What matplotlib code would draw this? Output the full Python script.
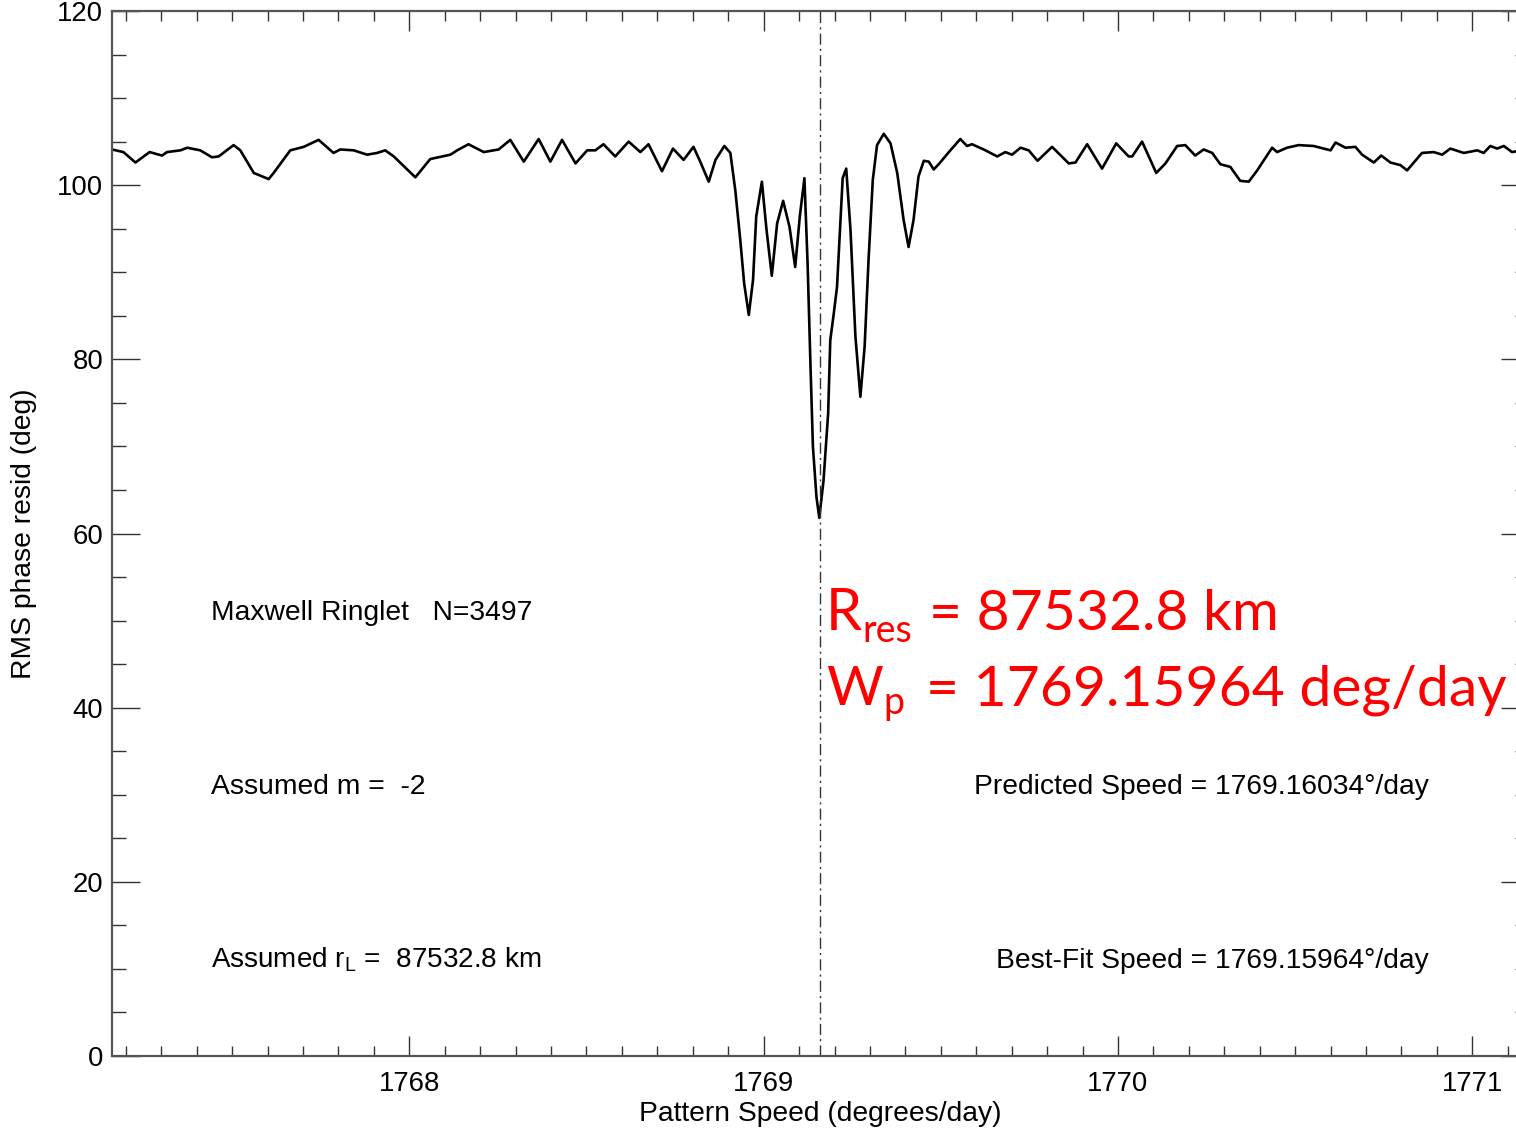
import matplotlib
matplotlib.use("Agg")
import matplotlib.pyplot as plt
from matplotlib.ticker import MultipleLocator

# ---- data ----
speed = [1767.161, 1767.193, 1767.227, 1767.267, 1767.302, 1767.316, 1767.354, 1767.373,
         1767.410, 1767.443, 1767.462, 1767.504, 1767.523, 1767.561, 1767.603, 1767.617,
         1767.664, 1767.702, 1767.744, 1767.786, 1767.805, 1767.843, 1767.881, 1767.909,
         1767.932, 1767.956, 1768.017, 1768.059, 1768.116, 1768.135, 1768.167, 1768.210,
         1768.252, 1768.285, 1768.323, 1768.365, 1768.398, 1768.431, 1768.469, 1768.502,
         1768.525, 1768.548, 1768.581, 1768.619, 1768.652, 1768.675, 1768.713, 1768.744,
         1768.774, 1768.802, 1768.821, 1768.845, 1768.864, 1768.889, 1768.906, 1768.920,
         1768.934, 1768.945, 1768.958, 1768.970, 1768.979, 1768.995, 1769.008, 1769.023,
         1769.038, 1769.055, 1769.073, 1769.089, 1769.102, 1769.115, 1769.124, 1769.132,
         1769.139, 1769.149, 1769.157, 1769.169, 1769.182, 1769.188, 1769.198, 1769.207,
         1769.216, 1769.223, 1769.233, 1769.245, 1769.259, 1769.273, 1769.285, 1769.296,
         1769.308, 1769.320, 1769.339, 1769.358, 1769.377, 1769.395, 1769.409, 1769.423,
         1769.437, 1769.452, 1769.466, 1769.480, 1769.496, 1769.527, 1769.555, 1769.574,
         1769.588, 1769.621, 1769.659, 1769.682, 1769.701, 1769.725, 1769.748, 1769.773,
         1769.814, 1769.861, 1769.880, 1769.913, 1769.955, 1769.995, 1770.030, 1770.040,
         1770.068, 1770.108, 1770.134, 1770.167, 1770.190, 1770.218, 1770.242, 1770.266,
         1770.289, 1770.317, 1770.345, 1770.369, 1770.393, 1770.435, 1770.449, 1770.477,
         1770.510, 1770.552, 1770.600, 1770.614, 1770.642, 1770.670, 1770.689, 1770.722,
         1770.743, 1770.769, 1770.797, 1770.816, 1770.858, 1770.891, 1770.915, 1770.938,
         1770.976, 1771.014, 1771.032, 1771.051, 1771.070, 1771.089, 1771.112, 1771.140]
rms = [104.1, 103.8, 102.6, 103.8, 103.4, 103.8, 104.0, 104.3,
       104.0, 103.2, 103.3, 104.6, 104.0, 101.4, 100.7, 101.4,
       104.0, 104.4, 105.2, 103.7, 104.1, 104.0, 103.5, 103.7,
       104.0, 103.3, 100.9, 103.0, 103.5, 104.0, 104.7, 103.8,
       104.1, 105.2, 102.7, 105.3, 102.7, 105.2, 102.5, 104.0,
       104.0, 104.7, 103.3, 105.0, 103.8, 104.7, 101.6, 104.2,
       102.9, 104.4, 102.7, 100.4, 102.9, 104.5, 103.7, 99.4,
       93.7, 88.7, 85.1, 89.1, 96.4, 100.4, 94.9, 89.6,
       95.6, 98.2, 95.2, 90.6, 96.4, 100.8, 91.0, 79.5,
       70.0, 64.2, 61.8, 66.1, 73.8, 82.2, 85.3, 88.3,
       95.2, 100.8, 101.9, 94.9, 82.6, 75.7, 81.5, 91.4,
       100.6, 104.6, 105.9, 104.8, 101.4, 96.0, 92.9, 96.0,
       101.0, 102.8, 102.7, 101.8, 102.5, 104.0, 105.3, 104.5,
       104.7, 104.1, 103.3, 103.8, 103.5, 104.3, 104.0, 102.8,
       104.4, 102.5, 102.6, 104.7, 101.9, 104.8, 103.3, 103.3,
       105.0, 101.4, 102.5, 104.5, 104.6, 103.4, 104.1, 103.7,
       102.4, 102.1, 100.5, 100.4, 101.7, 104.3, 103.8, 104.3,
       104.6, 104.5, 104.0, 104.9, 104.3, 104.4, 103.5, 102.6,
       103.4, 102.6, 102.3, 101.7, 103.7, 103.8, 103.5, 104.2,
       103.7, 104.0, 103.7, 104.5, 104.2, 104.5, 103.8, 104.0]

best_fit = 1769.15964
x_range = (1767.16, 1771.16)
y_range = (0, 120)
x_major = [1768, 1769, 1770, 1771]
x_labels = ["1768", "1769", "1770", "1771"]
y_major = [0, 20, 40, 60, 80, 100, 120]

W, H = 1516, 1128
fig = plt.figure(figsize=(W / 100, H / 100), dpi=100)
plt.rcParams['font.family'] = ['Liberation Sans', 'DejaVu Sans']
plt.rcParams['mathtext.fontset'] = 'custom'
plt.rcParams['mathtext.rm'] = 'Liberation Sans'
plt.rcParams['mathtext.it'] = 'Liberation Sans'

ax = fig.add_axes([111.7 / W, 72 / H, (1529 - 111.7) / W, (1117 - 72) / H])
ax.plot(speed, rms, color='black', lw=1.9, solid_joinstyle='round')
ax.axvline(best_fit, color='#333333', lw=1.0, linestyle=(0, (8, 3, 1.5, 3)))

ax.set_xlim(*x_range)
ax.set_ylim(*y_range)
ax.set_xticks(x_major)
ax.set_xticklabels(x_labels)
ax.set_yticks(y_major)
ax.xaxis.set_minor_locator(MultipleLocator(0.1))
ax.yaxis.set_minor_locator(MultipleLocator(5))

for s in ax.spines.values():
    s.set_color('#555555')
    s.set_linewidth(1.6)

ax.tick_params(axis='x', which='major', direction='in', top=True, bottom=True,
               length=14.5, width=1.0, color='#333333', pad=11, labelsize=19.8)
ax.tick_params(axis='x', which='minor', direction='in', top=True, bottom=True,
               length=7.2, width=1.0, color='#333333')
ax.tick_params(axis='y', which='major', direction='in', left=True, right=True,
               length=20, width=1.0, color='#333333', pad=6, labelsize=19.8)
ax.tick_params(axis='y', which='minor', direction='in', left=True, right=True,
               length=10, width=1.0, color='#333333')

ax.set_xlabel("Pattern Speed (degrees/day)", fontsize=20.3)
ax.xaxis.set_label_coords(0.5, -0.043)
ax.set_ylabel("RMS phase resid (deg)", fontsize=20.3)
ax.yaxis.set_label_coords(-0.053, 0.5)

def ft(px, py, s, **kw):
    fig.text(px / W, 1 - py / H, s, **kw)

ft(211, 620, "Maxwell Ringlet   N=3497", fontsize=20.3, va='baseline')
ft(211, 794, "Assumed m =  -2", fontsize=20.3, va='baseline')
ft(211, 968, r"Assumed r$_{\rm L}$ =  87532.8 km", fontsize=20.1, va='baseline')
ft(1429, 794, "Predicted Speed = 1769.16034\u00b0/day", fontsize=20.3, va='baseline', ha='right')
ft(1429, 968, "Best-Fit Speed = 1769.15964\u00b0/day", fontsize=20.3, va='baseline', ha='right')

red = '#FF0000'
rf = ['Lato', 'DejaVu Sans']
ft(826, 630, "R", fontsize=41.5, color=red, family=rf, va='baseline')
ft(862, 642, "res", fontsize=27, color=red, family=rf, va='baseline')
ft(929, 630, "= 87532.8 km", fontsize=41.0, color=red, family=rf, va='baseline')
ft(826, 705, "W", fontsize=39.5, color=red, family=rf, va='baseline')
ft(883, 714, "p", fontsize=27, color=red, family=rf, va='baseline')
ft(926, 705, "= 1769.15964 deg/day", fontsize=41.0, color=red, family=rf, va='baseline')

fig.savefig("out.png", dpi=100)
